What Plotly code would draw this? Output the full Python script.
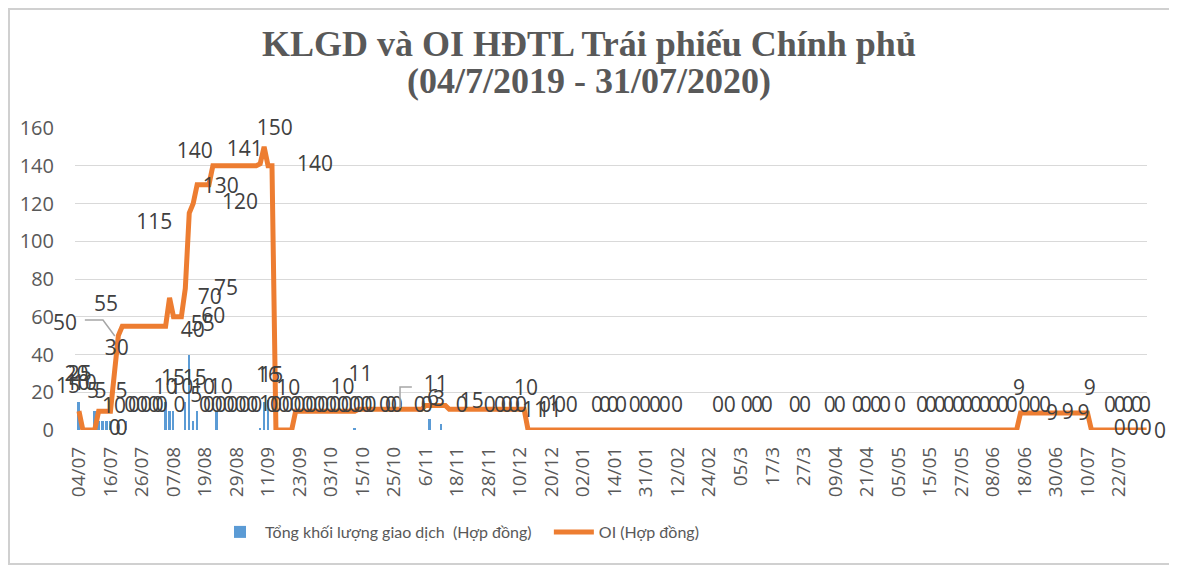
import plotly.graph_objects as go

# --- dữ liệu: mỗi phần tử = 1 phiên giao dịch (04/07/2019 -> 31/07/2020) ---
oi = [
    10, 0, 0, 0, 0, 10, 10, 10, 10, 30, 50, 55, 55, 55, 55, 55,
    55, 55, 55, 55, 55, 55, 55, 70, 60, 60, 60, 75, 115, 120, 130, 130,
    130, 130, 140, 140, 140, 140, 140, 140, 140, 140, 140, 140, 140, 140, 141, 150,
    140, 140, 0, 0, 0, 0, 0, 10, 10, 10, 10, 10, 10, 10, 10, 10,
    10, 10, 10, 10, 10, 10, 10, 11, 11, 11, 11, 11, 11, 11, 11, 11,
    11, 11, 11, 11, 11, 11, 11, 11, 13, 13, 13, 13, 13, 13, 11, 11,
    11, 11, 11, 11, 11, 11, 11, 11, 11, 11, 11, 11, 11, 11, 11, 11,
    11, 11, 0, 0, 0, 0, 0, 0, 0, 0, 0, 0, 0, 0, 0, 0,
    0, 0, 0, 0, 0, 0, 0, 0, 0, 0, 0, 0, 0, 0, 0, 0,
    0, 0, 0, 0, 0, 0, 0, 0, 0, 0, 0, 0, 0, 0, 0, 0,
    0, 0, 0, 0, 0, 0, 0, 0, 0, 0, 0, 0, 0, 0, 0, 0,
    0, 0, 0, 0, 0, 0, 0, 0, 0, 0, 0, 0, 0, 0, 0, 0,
    0, 0, 0, 0, 0, 0, 0, 0, 0, 0, 0, 0, 0, 0, 0, 0,
    0, 0, 0, 0, 0, 0, 0, 0, 0, 0, 0, 0, 0, 0, 0, 0,
    0, 0, 0, 0, 0, 0, 0, 0, 0, 0, 0, 0, 0, 0, 0, 9,
    9, 9, 9, 9, 9, 9, 9, 9, 9, 9, 9, 9, 9, 9, 9, 9,
    9, 0, 0, 0, 0, 0, 0, 0, 0, 0, 0, 0, 0, 0, 0, 0,
]
volume = [
    15, 0, 0, 0, 10, 5, 5, 5, 5, 0, 0, 0, 5, 0, 0, 0,
    0, 0, 0, 0, 0, 0, 15, 10, 10, 0, 0, 15, 40, 5, 10, 0,
    0, 0, 0, 10, 0, 0, 0, 0, 0, 0, 0, 0, 0, 0, 1, 15,
    16, 0, 0, 0, 0, 0, 0, 0, 0, 0, 0, 0, 0, 0, 0, 0,
    0, 0, 0, 0, 0, 0, 1, 0, 0, 0, 0, 0, 0, 0, 0, 0,
    0, 0, 0, 0, 0, 0, 0, 0, 0, 6, 0, 0, 3, 0, 0, 0,
    0, 0, 0, 0, 0, 0, 0, 0, 0, 0, 0, 0, 0, 0, 0, 0,
    0, 0, 0, 0, 0, 0, 0, 0, 0, 0, 0, 0, 0, 0, 0, 0,
    0, 0, 0, 0, 0, 0, 0, 0, 0, 0, 0, 0, 0, 0, 0, 0,
    0, 0, 0, 0, 0, 0, 0, 0, 0, 0, 0, 0, 0, 0, 0, 0,
    0, 0, 0, 0, 0, 0, 0, 0, 0, 0, 0, 0, 0, 0, 0, 0,
    0, 0, 0, 0, 0, 0, 0, 0, 0, 0, 0, 0, 0, 0, 0, 0,
    0, 0, 0, 0, 0, 0, 0, 0, 0, 0, 0, 0, 0, 0, 0, 0,
    0, 0, 0, 0, 0, 0, 0, 0, 0, 0, 0, 0, 0, 0, 0, 0,
    0, 0, 0, 0, 0, 0, 0, 0, 0, 0, 0, 0, 0, 0, 0, 0,
    0, 0, 0, 0, 0, 0, 0, 0, 0, 0, 0, 0, 0, 0, 0, 0,
    0, 0, 0, 0, 0, 0, 0, 0, 0, 0, 0, 0, 0, 0, 0, 0,
]
tick_labels = ["04/07", "16/07", "26/07", "07/08", "19/08", "29/08", "11/09", "23/09",
               "03/10", "15/10", "25/10", "6/11", "18/11", "28/11", "10/12", "20/12",
               "02/01", "14/01", "31/01", "12/02", "24/02", "05/3", "17/3", "27/3",
               "09/04", "21/04", "05/05", "15/05", "27/05", "08/06", "18/06", "30/06",
               "10/07", "22/07"]
days = list(range(len(oi)))

# nhãn dữ liệu (chồng chéo như trong Excel)
lbl_text = ["15", "20", "25", "10", "10", "5", "5", "5", "10", "0", "0",
            "50", "55", "30", "115",
            "15", "15", "10", "10", "10", "10", "5",
            "40", "55", "60", "70", "75",
            "140", "130", "120", "141", "150", "140",
            "16", "15", "1", "10",
            "10", "11", "11", "6", "3", "15", "10", "11", "11", "1",
            "9", "9", "9", "9", "9"]
lbl_day = [-2.7, -0.6, 0.2, -0.3, 1.5, 3.6, 5.5, 10.8, 8.9, 9.1, 10.8,
           -3.6, 6.9, 9.6, 19.1,
           23.9, 29.4, 22.0, 26.0, 31.5, 36.0, 29.8,
           28.9, 31.4, 34.1, 33.2, 37.3,
           29.4, 36.0, 40.9, 42.1, 49.7, 59.9,
           48.0, 48.8, 47.2, 53.1,
           66.9, 71.5, 90.6, 89.9, 91.4, 99.7, 113.5, 115.5, 119.5, 120.4,
           238.6, 256.6, 247.0, 251.0, 255.0]
lbl_pos = [23.8, 29, 29, 23.8, 23.8, 19.6, 19.6, 19.6, 11.6, 0, 0,
           57.4, 65.7, 42.7, 109.5,
           26.5, 26.5, 22, 22, 22, 22, 17.6,
           52, 55, 59.7, 69.4, 74.5,
           147, 128.6, 119.7, 148, 159, 140,
           28.2, 28.2, 13, 21.5,
           22, 28.8, 23.3, 15.9, 15.3, 14.7, 21.2, 9.7, 9.7, 13,
           21.2, 21.2, 8.0, 8.5, 8.0]

zero_days = [13, 14, 16, 17, 19, 20, 21, 25.5, 32, 33, 35, 36, 38, 39, 41, 42, 44, 45,
             49, 50, 52, 53, 55, 56, 58, 59, 61, 62, 64, 65, 67, 68, 70, 71, 73, 74,
             77.7, 79.2, 80.7, 86.5, 88.3, 97.2, 104.3, 106.9, 108.6, 110.4, 112.2,
             118.3, 122.1, 125.1, 131.5, 133.5, 135.5, 137.6, 141.1, 143.7, 146.2,
             148.7, 151.8, 162.2, 165.2, 169.5, 172.1, 174.6, 181.7, 184.3, 190.6,
             193.1, 197.7, 199.7, 202.3, 204.6, 208.4, 214, 216.2, 218.5, 220.8,
             223.1, 225.4, 227.7, 229.9, 232.2, 234.5, 236.8, 240, 242.6, 245.2,
             261.7, 264.2, 266.2, 268.5, 270.6]
end_zero_days = [264.2, 267.5, 270.8, 274.4]

BLUE = "#5B9BD5"
ORANGE = "#ED7D31"
GRIS = "#595959"
LBL = "#404040"

# vùng vẽ (pixel màn hình): x 75..1147, y 128..430 ; trang có lề body 8px
PX0, PW, PY0, PH = 75, 1072, 430, 302
XR = [-1.0, 271.1]
YR = [0, 160]


def px(x):
    return (x - PX0) / PW


def py(y):
    return (PY0 - y) / PH


fig = go.Figure()
fig.add_trace(go.Bar(x=days, y=volume,
                     name="Tổng khối lượng giao dịch\u00a0 (Hợp đồng)\u00a0\u00a0\u00a0",
                     marker_color=BLUE, marker_line_width=0, width=0.5))
fig.add_trace(go.Scatter(x=days, y=oi, name="OI (Hợp đồng)", mode="lines",
                         line=dict(color=ORANGE, width=5)))

lbl_font = dict(family="Open Sans", size=21, color=LBL)
# gom tất cả nhãn: (chữ, ngày, độ cao)
labels = list(zip(lbl_text, lbl_day, lbl_pos))
labels += [("0", d, 12.5) for d in zero_days]
labels += [("0", d, 0) for d in end_zero_days]
inside = [l for l in labels if XR[0] <= l[1] <= XR[1]]
outside = [l for l in labels if not XR[0] <= l[1] <= XR[1]]

fig.add_trace(go.Scatter(x=[l[1] for l in inside], y=[l[2] for l in inside],
                         text=[l[0] for l in inside], mode="text", textfont=lbl_font,
                         showlegend=False, hoverinfo="skip", cliponaxis=False))
# nhãn nằm ngoài khoảng trục: đặt theo tọa độ paper (quy đổi từ thang trục)
for t, d, v in outside:
    fig.add_annotation(text=t, xref="paper", yref="paper",
                       x=(d - XR[0]) / (XR[1] - XR[0]), y=(v - YR[0]) / (YR[1] - YR[0]),
                       showarrow=False, xanchor="center", yanchor="middle", font=lbl_font)

# đường dẫn nhãn (leader lines) và đoạn trục lẻ
lead = dict(color="#A6A6A6", width=1.5)
fig.add_shape(type="path", path="M 1.5 58.3 L 6.1 58.3 L 9.1 49.8", line=lead)
fig.add_shape(type="path", path="M 81.5 11.6 L 81.5 22.8 L 84.5 22.8", line=lead)
fig.add_shape(type="line", x0=121.6, x1=245.7, y0=-1.3, y1=-1.3, line=dict(color=GRIS, width=1.5))
fig.add_shape(type="line", x0=57.9, x1=61.9, y0=-1.3, y1=-1.3, line=dict(color=GRIS, width=1.5))
# khung ngoài
fig.add_shape(type="rect", xref="paper", yref="paper", x0=px(9), x1=px(1172),
              y0=py(564), y1=py(9), line=dict(color="#D0D0D0", width=2))

title_font = dict(family="Liberation Serif", size=36, color=GRIS)
fig.add_annotation(text="<b>KLGD và OI HĐTL Trái phiếu Chính phủ</b>", xref="paper", yref="paper",
                   x=px(589), y=py(44), showarrow=False,
                   xanchor="center", yanchor="middle", font=title_font)
fig.add_annotation(text="<b>(04/7/2019 - 31/07/2020)</b>", xref="paper", yref="paper",
                   x=px(589), y=py(81), showarrow=False,
                   xanchor="center", yanchor="middle", font=title_font)

fig.update_layout(
    width=1169, height=560,
    margin=dict(l=67, r=30, t=120, b=138),
    paper_bgcolor="white", plot_bgcolor="white",
    showlegend=True, bargap=0,
    legend=dict(orientation="h", x=px(215), xanchor="left", y=py(532), yanchor="middle",
                font=dict(family="Lato", size=16, color=GRIS), itemwidth=40,
                traceorder="normal"),
    xaxis=dict(range=XR, tickvals=days[::8], ticktext=tick_labels,
               tickangle=-90, showgrid=False, zeroline=False, showline=False,
               ticks="", ticklabelstandoff=12,
               tickfont=dict(family="Open Sans", size=19, color=GRIS)),
    yaxis=dict(range=YR, dtick=20, showgrid=True, gridcolor="#D9D9D9", gridwidth=1,
               zeroline=False, showline=False, ticks="", ticklabelstandoff=20,
               tickfont=dict(family="Open Sans", size=20, color=GRIS)),
)

fig.write_html("out.html")
